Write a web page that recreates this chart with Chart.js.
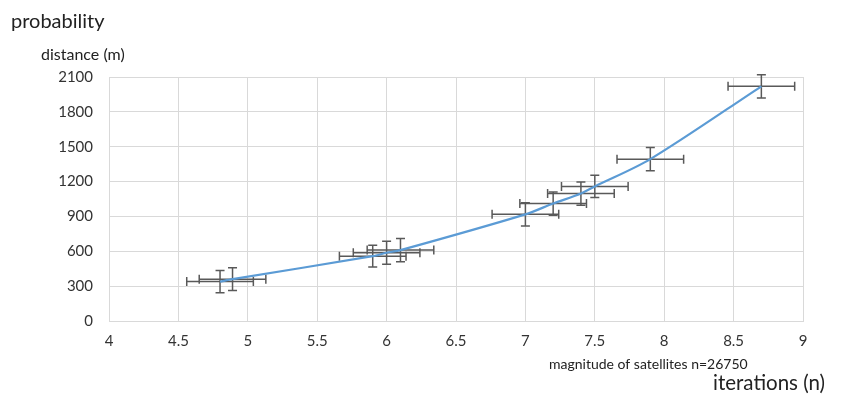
<!DOCTYPE html>
<html>
<head>
<meta charset="utf-8">
<script src="https://cdn.jsdelivr.net/npm/chart.js@4"></script>
<style>
  html, body { margin: 0; padding: 0; background: #fff; }
  #wrap { width: 852px; height: 398px; }
</style>
</head>
<body>
<div id="wrap"><canvas id="distChart" width="852" height="398"></canvas></div>
<script>
const magnitude = [4.8, 4.89, 5.9, 6.0, 6.1, 7.0, 7.2, 7.4, 7.5, 7.9, 8.7];
const distance = [339, 360, 558, 587, 610, 918, 1011, 1097, 1158, 1393, 2020];
const magnitudeErr = [0.24, 0.24, 0.24, 0.24, 0.24, 0.24, 0.24, 0.24, 0.24, 0.24, 0.24];
const distanceErr = [96, 98, 93, 99, 99, 100, 100, 100, 96, 100, 100];
const xTicks = [4, 4.5, 5, 5.5, 6, 6.5, 7, 7.5, 8, 8.5, 9];
const yTicks = [0, 300, 600, 900, 1200, 1500, 1800, 2100];

const points = magnitude.map((x, i) => ({ x: x, y: distance[i] }));

const errorBars = {
  id: "errorBars",
  beforeDatasetsDraw(chart) {
    const ctx = chart.ctx;
    const xs = chart.scales.x;
    const ys = chart.scales.y;
    const cap = 4.5;
    ctx.save();
    ctx.strokeStyle = "#595959";
    ctx.lineWidth = 1.5;
    magnitude.forEach((x, i) => {
      const px = xs.getPixelForValue(x);
      const py = ys.getPixelForValue(distance[i]);
      const x0 = xs.getPixelForValue(x - magnitudeErr[i]);
      const x1 = xs.getPixelForValue(x + magnitudeErr[i]);
      const y0 = ys.getPixelForValue(distance[i] - distanceErr[i]);
      const y1 = ys.getPixelForValue(distance[i] + distanceErr[i]);
      ctx.beginPath();
      ctx.moveTo(x0, py); ctx.lineTo(x1, py);
      ctx.moveTo(x0, py - cap); ctx.lineTo(x0, py + cap);
      ctx.moveTo(x1, py - cap); ctx.lineTo(x1, py + cap);
      ctx.moveTo(px, y0); ctx.lineTo(px, y1);
      ctx.moveTo(px - cap, y0); ctx.lineTo(px + cap, y0);
      ctx.moveTo(px - cap, y1); ctx.lineTo(px + cap, y1);
      ctx.stroke();
    });
    ctx.restore();
  }
};

const labels = {
  id: "labels",
  afterDraw(chart) {
    const ctx = chart.ctx;
    ctx.save();
    ctx.fillStyle = "#222";
    ctx.textBaseline = "alphabetic";
    ctx.textAlign = "left";
    ctx.font = "20px Lato";
    ctx.fillText("probability", 11, 28);
    ctx.font = "16px Lato";
    ctx.fillText("distance (m)", 41, 60);
    ctx.font = "14px Lato";
    ctx.fillText("magnitude of satellites n=26750", 549, 369);
    ctx.font = "20.5px Lato";
    ctx.fillText("iterations (n)", 713, 390);
    ctx.restore();
  }
};

const ctx = document.getElementById("distChart").getContext("2d");

const distChart = new Chart(ctx, {
  type: "scatter",
  data: {
    datasets: [
      {
        data: points,
        showLine: true,
        borderColor: "#5b9bd5",
        borderWidth: 2.2,
        pointRadius: 0,
        tension: 0.3,
        fill: false,
      },
    ],
  },
  options: {
    responsive: false,
    animation: false,
    layout: { padding: { top: 77, right: 49, left: 0, bottom: 0 } },
    plugins: {
      legend: { display: false },
      tooltip: { enabled: false },
    },
    scales: {
      x: {
        type: "linear",
        min: 4,
        max: 9,
        afterBuildTicks: (axis) => { axis.ticks = xTicks.map((v) => ({ value: v })); },
        afterFit: (axis) => { axis.height = 77; },
        grid: { color: "#d9d9d9", drawTicks: false },
        border: { color: "#d9d9d9" },
        ticks: {
          padding: 11,
          color: "#333",
          font: { family: "Lato", size: 15 },
          maxRotation: 0,
          callback: (v) => String(v),
        },
      },
      y: {
        min: 0,
        max: 2100,
        afterBuildTicks: (axis) => { axis.ticks = yTicks.map((v) => ({ value: v })); },
        afterFit: (axis) => { axis.width = 109; },
        grid: { color: "#d9d9d9", drawTicks: false },
        border: { color: "#d9d9d9" },
        ticks: {
          padding: 16,
          color: "#333",
          font: { family: "Lato", size: 15 },
          callback: (v) => String(v),
        },
      },
    },
  },
  plugins: [errorBars, labels],
});
</script>
</body>
</html>
